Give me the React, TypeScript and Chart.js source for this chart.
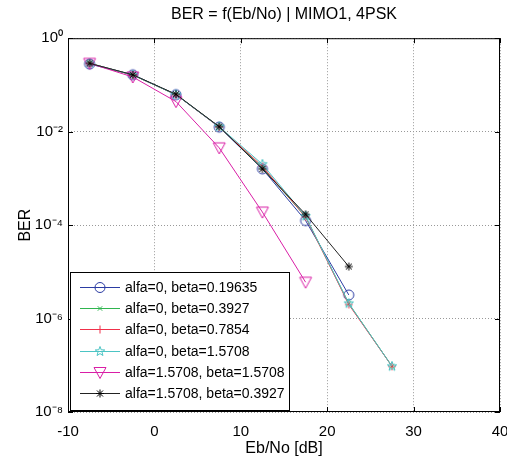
import { useEffect, useRef } from 'react';
import { Chart, registerables } from 'chart.js';

Chart.register(...registerables);

const FONT = 'Liberation Sans, Arial, Helvetica, sans-serif';

const ebNo = [-7.5, -2.5, 2.5, 7.5, 12.5, 17.5, 22.5, 27.5];
const berA0B019635 = [0.28, 0.165, 0.062, 0.0125, 0.0016, 1.25e-4, 3.2e-6, null];
const berA0B03927 = [0.29, 0.163, 0.062, 0.0127, 0.0017, 1.5e-4, 2.1e-6, 9.5e-8];
const berA0B07854 = [0.29, 0.163, 0.062, 0.0127, 0.0018, 1.5e-4, 2.0e-6, 9.5e-8];
const berA0B15708 = [0.29, 0.163, 0.062, 0.0128, 0.002, 1.55e-4, 2.1e-6, 9.5e-8];
const berA15708B15708 = [0.29, 0.148, 0.044, 0.0045, 1.9e-4, 6e-6, null, null];
const berA15708B03927 = [0.29, 0.165, 0.063, 0.0128, 0.0016, 1.7e-4, 1.3e-5, null];

const seriesLabels = [
  'alfa=0, beta=0.19635',
  'alfa=0, beta=0.3927',
  'alfa=0, beta=0.7854',
  'alfa=0, beta=1.5708',
  'alfa=1.5708, beta=1.5708',
  'alfa=1.5708, beta=0.3927',
];
const seriesValues = [berA0B019635, berA0B03927, berA0B07854, berA0B15708, berA15708B15708, berA15708B03927];
const seriesColors = ['#2b3ca3', '#2fb54f', '#f0304a', '#4cc4c4', '#d91ea6', '#222222'];
const seriesMarkers = ['o', 'x', '+', 'p', 'v', '*'];

const xTicks = [-10, 0, 10, 20, 30, 40];
const yTickValues = [1, 1e-2, 1e-4, 1e-6, 1e-8];
const yTickLabels = ['10⁰', '10⁻²', '10⁻⁴', '10⁻⁶', '10⁻⁸'];

const titleText = 'BER = f(Eb/No) | MIMO1, 4PSK';
const xTitle = 'Eb/No [dB]';
const yTitle = 'BER';

function drawMarker(ctx: CanvasRenderingContext2D, kind: string, x: number, y: number, color: string) {
  ctx.save();
  ctx.strokeStyle = kind === '*' ? '#000' : color;
  ctx.lineWidth = 1;
  ctx.beginPath();
  if (kind === 'o') {
    ctx.arc(x, y, 5, 0, Math.PI * 2);
  } else if (kind === 'x') {
    const s = 2.2;
    ctx.moveTo(x - s, y - s); ctx.lineTo(x + s, y + s);
    ctx.moveTo(x + s, y - s); ctx.lineTo(x - s, y + s);
  } else if (kind === '+') {
    const s = 4;
    ctx.moveTo(x - s, y); ctx.lineTo(x + s, y);
    ctx.moveTo(x, y - s); ctx.lineTo(x, y + s);
  } else if (kind === 'p') {
    const ro = 5, ri = 2.1;
    for (let i = 0; i < 10; i++) {
      const r = i % 2 === 0 ? ro : ri;
      const a = -Math.PI / 2 + (i * Math.PI) / 5;
      const px = x + r * Math.cos(a), py = y + r * Math.sin(a);
      if (i === 0) ctx.moveTo(px, py); else ctx.lineTo(px, py);
    }
    ctx.closePath();
  } else if (kind === 'v') {
    ctx.moveTo(x - 6, y - 5);
    ctx.lineTo(x + 6, y - 5);
    ctx.lineTo(x, y + 6);
    ctx.closePath();
  } else if (kind === '*') {
    const s = 4, d = 3;
    ctx.moveTo(x - s, y); ctx.lineTo(x + s, y);
    ctx.moveTo(x, y - s); ctx.lineTo(x, y + s);
    ctx.moveTo(x - d, y - d); ctx.lineTo(x + d, y + d);
    ctx.moveTo(x + d, y - d); ctx.lineTo(x - d, y + d);
  }
  ctx.stroke();
  ctx.restore();
}

function makeMarkerCanvas(kind: string, color: string) {
  const c = document.createElement('canvas');
  c.width = 16;
  c.height = 16;
  const ctx = c.getContext('2d')!;
  drawMarker(ctx, kind, 8, 8, color);
  return c;
}

const framePlugin = {
  id: 'frame',
  afterDatasetsDraw(chart: any) {
    const { ctx, chartArea } = chart;
    const { left, right, top, bottom } = chartArea;
    const xs = chart.scales.x;
    const ys = chart.scales.y;
    ctx.save();
    ctx.strokeStyle = '#000';
    ctx.lineWidth = 1;
    ctx.strokeRect(left + 0.5, top + 0.5, right - left - 1, bottom - top - 1);
    ctx.beginPath();
    xTicks.forEach((v) => {
      const px = Math.round(xs.getPixelForValue(v)) + 0.5;
      ctx.moveTo(px, bottom);
      ctx.lineTo(px, bottom - 5);
      ctx.moveTo(px, top);
      ctx.lineTo(px, top + 5);
    });
    yTickValues.forEach((v) => {
      const py = Math.round(ys.getPixelForValue(v)) + 0.5;
      ctx.moveTo(left, py);
      ctx.lineTo(left + 5, py);
      ctx.moveTo(right, py);
      ctx.lineTo(right - 5, py);
    });
    ctx.stroke();
    ctx.restore();
  },
};

const legendPlugin = {
  id: 'insideLegend',
  afterDraw(chart: any) {
    const { ctx, chartArea } = chart;
    const boxLeft = chartArea.left + 2;
    const boxRight = boxLeft + 220;
    const boxBottom = chartArea.bottom - 1;
    const boxTop = boxBottom - 139;
    ctx.save();
    ctx.fillStyle = '#fff';
    ctx.fillRect(boxLeft, boxTop, boxRight - boxLeft, boxBottom - boxTop);
    ctx.strokeStyle = '#000';
    ctx.lineWidth = 1;
    ctx.strokeRect(boxLeft + 0.5, boxTop + 0.5, boxRight - boxLeft - 1, boxBottom - boxTop - 1);
    ctx.font = `14px ${FONT}`;
    ctx.textBaseline = 'middle';
    ctx.textAlign = 'left';
    chart.data.datasets.forEach((ds: any, i: number) => {
      const yy = Math.round(boxTop + 15 + i * 21.2) + 0.5;
      ctx.strokeStyle = ds.borderColor;
      ctx.lineWidth = 1;
      ctx.beginPath();
      ctx.moveTo(boxLeft + 10, yy);
      ctx.lineTo(boxLeft + 50, yy);
      ctx.stroke();
      drawMarker(ctx, ds.markerKind, boxLeft + 30, yy, ds.borderColor);
      ctx.fillStyle = '#000';
      ctx.fillText(ds.label, boxLeft + 55, yy + 1);
    });
    ctx.restore();
  },
};

export default function App() {
  const ref = useRef<HTMLCanvasElement | null>(null);
  useEffect(() => {
    if (!ref.current) return;
    Chart.defaults.font.family = FONT;
    const datasets = seriesLabels.map((label, i) => ({
      label,
      data: ebNo.map((x, j) => ({ x, y: seriesValues[i][j] })),
      borderColor: seriesColors[i],
      backgroundColor: seriesColors[i],
      borderWidth: 1,
      pointStyle: makeMarkerCanvas(seriesMarkers[i], seriesColors[i]),
      pointRadius: 5,
      spanGaps: false,
      order: seriesLabels.length - i,
      markerKind: seriesMarkers[i],
    }));
    const chart = new Chart(ref.current, {
      type: 'line',
      data: { datasets } as any,
      options: {
        animation: false,
        responsive: false,
        layout: { padding: { right: 7, left: 0, top: 0, bottom: 0 }, autoPadding: false },
        plugins: {
          legend: { display: false },
          tooltip: { enabled: false },
          title: {
            display: true,
            text: titleText,
            fullSize: false,
            color: '#000',
            font: { size: 16, weight: 'normal' },
            padding: { top: 5, bottom: 14 },
          },
        },
        scales: {
          x: {
            type: 'linear',
            min: -10,
            max: 40,
            afterBuildTicks: (s: any) => { s.ticks = xTicks.map((v) => ({ value: v })); },
            afterFit: (s: any) => { s.height = 59; s.paddingLeft = 0; s.paddingRight = 0; },
            ticks: { color: '#000', font: { size: 15 }, padding: 11, maxRotation: 0 },
            grid: { color: '#999', drawTicks: false, lineWidth: 1 },
            border: { display: false, dash: [1, 2] },
            title: { display: true, text: xTitle, color: '#000', font: { size: 16 }, padding: { top: 0, bottom: 13 } },
          },
          y: {
            type: 'logarithmic',
            min: 1e-8,
            max: 1,
            afterBuildTicks: (s: any) => { s.ticks = yTickValues.map((v) => ({ value: v })); },
            afterFit: (s: any) => { s.width = 68; s.paddingTop = 0; s.paddingBottom = 0; },
            ticks: {
              color: '#000',
              font: { size: 15 },
              padding: 5,
              callback: (v: any) => {
                const idx = yTickValues.findIndex((t) => Math.abs(Math.log10(t) - Math.log10(Number(v))) < 1e-6);
                return idx >= 0 ? yTickLabels[idx] : '';
              },
            },
            grid: { color: '#999', drawTicks: false, lineWidth: 1 },
            border: { display: false, dash: [1, 2] },
            title: { display: true, text: yTitle, color: '#000', font: { size: 16 }, padding: { top: 16, bottom: 0 } },
          },
        },
      } as any,
      plugins: [framePlugin, legendPlugin],
    });
    return () => chart.destroy();
  }, []);
  return (
    <div style={{ position: 'absolute', left: 0, top: 0, width: 507, height: 471, background: '#fff' }}>
      <canvas ref={ref} width={507} height={471} style={{ display: 'block' }} />
    </div>
  );
}
